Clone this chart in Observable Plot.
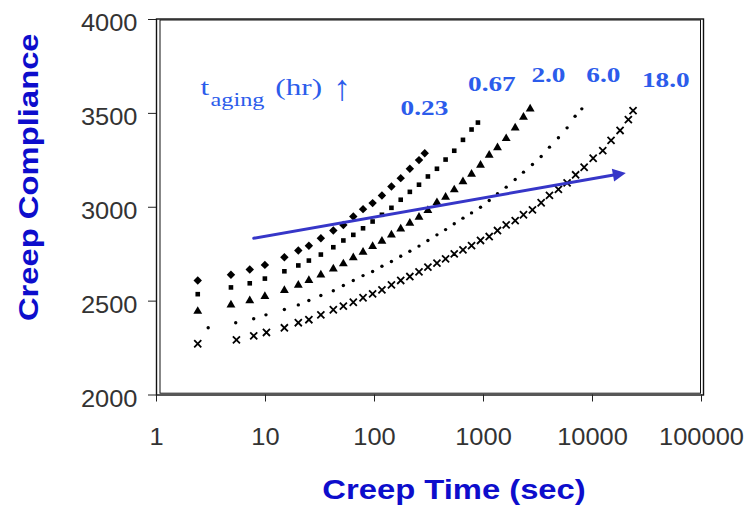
<!DOCTYPE html>
<html>
<head>
<meta charset="utf-8">
<script src="https://cdn.jsdelivr.net/npm/d3@7"></script>
<script src="https://cdn.jsdelivr.net/npm/@observablehq/plot@0.6"></script>
<style>
  body { margin: 0; background: #fff; }
</style>
</head>
<body>
<div id="chart"></div>
<script>
// ---- Data ----
const xTicks = [1, 10, 100, 1000, 10000, 100000];
const yTicks = [2000, 2500, 3000, 3500, 4000];

// t_aging = 0.23 hr (diamonds)
const tDiamond = [2.39, 4.82, 7.17, 9.87, 14.9, 20.0, 25.0, 32.2, 41.9, 51.8, 63.9, 78.5, 96.1, 117, 143, 174, 211, 256, 289];
const cDiamond = [2610, 2640, 2668, 2693, 2734, 2770, 2795, 2835, 2876, 2905, 2951, 2990, 3022, 3063, 3111, 3155, 3205, 3251, 3288];

// t_aging = 0.67 hr (squares)
const tSquare = [2.39, 4.82, 7.17, 9.87, 14.9, 20.0, 25.0, 32.2, 41.9, 51.8, 63.9, 78.5, 96.1, 117, 143, 174, 211, 256, 309, 374, 449, 539, 648, 777, 889];
const cSquare = [2537, 2573, 2595, 2620, 2659, 2690, 2716, 2748, 2787, 2823, 2853, 2888, 2924, 2960, 2997, 3040, 3082, 3120, 3164, 3205, 3254, 3301, 3359, 3414, 3451];

// t_aging = 2.0 hr (triangles)
const tTriangle = [2.39, 4.82, 7.17, 9.87, 14.9, 20.0, 25.0, 32.2, 41.9, 51.8, 63.9, 78.5, 96.1, 117, 143, 174, 211, 256, 309, 374, 449, 539, 648, 777, 939, 1128, 1344, 1615, 1953, 2327, 2680];
const cTriangle = [2446, 2480, 2503, 2525, 2557, 2585, 2610, 2640, 2672, 2699, 2731, 2761, 2791, 2819, 2853, 2885, 2915, 2947, 2983, 3025, 3054, 3093, 3136, 3176, 3224, 3277, 3317, 3366, 3423, 3480, 3524];

// t_aging = 6.0 hr (small dots)
const tDot = [2.98, 5.33, 7.79, 10.1, 14.9, 20.0, 25.0, 32.2, 41.9, 51.8, 63.9, 78.5, 96.1, 117, 143, 174, 211, 256, 309, 374, 449, 539, 648, 777, 939, 1128, 1344, 1615, 1953, 2327, 2812, 3380, 4029, 4867, 5848, 6920, 7980];
const cDot = [2358, 2385, 2406, 2427, 2455, 2480, 2503, 2530, 2555, 2583, 2610, 2636, 2658, 2686, 2711, 2739, 2766, 2793, 2823, 2853, 2881, 2912, 2942, 2970, 3000, 3036, 3072, 3107, 3148, 3187, 3228, 3270, 3320, 3370, 3423, 3485, 3524];

// t_aging = 18.0 hr (crosses)
const tCross = [2.39, 5.41, 7.8, 10.2, 14.9, 20.0, 25.0, 32.2, 41.9, 51.8, 63.9, 78.5, 96.1, 117, 143, 174, 211, 256, 309, 374, 449, 539, 648, 777, 939, 1128, 1344, 1615, 1953, 2327, 2812, 3380, 4029, 4867, 5848, 7000, 8380, 10140, 12420, 14800, 17910, 21330, 23560];
const cCross = [2273, 2294, 2315, 2333, 2358, 2385, 2401, 2427, 2454, 2473, 2494, 2518, 2539, 2560, 2587, 2610, 2631, 2656, 2681, 2702, 2725, 2752, 2773, 2796, 2823, 2844, 2876, 2906, 2929, 2960, 2986, 3024, 3063, 3095, 3130, 3173, 3213, 3261, 3302, 3356, 3409, 3467, 3515];

// Aging-time labels above the curves
const agingLabels = ["0.23", "0.67", "2.0", "6.0", "18.0"];
const agingLabelT = [287, 1194, 3944, 12560, 47080];
const agingLabelC = [3528, 3652, 3700, 3700, 3677];

// "t_aging (hr) ↑" annotation pieces
const titleParts = ["t", "(hr)"];
const titlePartT = [2.53, 12.3];
const titlePartC = [3638, 3638];
const subscriptText = ["aging"];
const subscriptT = [3.13];
const subscriptC = [3572];
const upArrowText = ["↑"];
const upArrowT = [50.7];
const upArrowC = [3630];

// Trend arrow (start/end in data units)
const trendT = [7.8, 20200];
const trendC = [2835, 3183];

const xTitle = "Creep Time (sec)";
const yTitle = "Creep Compliance";

// ---- Build tables ----
const rows = (ts, cs) => ts.map((t, i) => ({t, c: cs[i]}));
const labelRows = agingLabels.map((s, i) => ({s, t: agingLabelT[i], c: agingLabelC[i]}));
const partRows = titleParts.map((s, i) => ({s, t: titlePartT[i], c: titlePartC[i]}));
const subRows = subscriptText.map((s, i) => ({s, t: subscriptT[i], c: subscriptC[i]}));
const upRows = upArrowText.map((s, i) => ({s, t: upArrowT[i], c: upArrowC[i]}));
const trend = [{t1: trendT[0], c1: trendC[0], t2: trendT[1], c2: trendC[1]}];
const trendHead = [{t: trendT[1], c: trendC[1]}];

const sans = "Liberation Sans, Arial, sans-serif";
const serif = "Liberation Serif, Times New Roman, serif";
const titleBlue = "#0d0dcc";
const labelBlue = "#2c5ceb";
const arrowBlue = "#3636c8";

const chart = Plot.plot({
  width: 748,
  height: 516,
  marginLeft: 156,
  marginRight: 47,
  marginTop: 19,
  marginBottom: 121.5,
  style: {fontFamily: sans, background: "#fff", overflow: "visible"},
  x: {type: "log", domain: [1, 100000]},
  y: {domain: [2000, 4000]},
  marks: [
    // double frame
    Plot.frame({stroke: "#111", strokeWidth: 1.4, insetTop: -0.5, insetRight: -2}),
    Plot.frame({stroke: "#111", strokeWidth: 1, insetLeft: 3.5, insetTop: 0.5, insetRight: 1, insetBottom: 1.8}),
    // axes
    Plot.axisX(xTicks, {tickSize: 7, tickPadding: 26, fontSize: 24, tickFormat: d => String(d), label: null, color: "#333", stroke: "#222"}),
    Plot.axisY(yTicks, {tickSize: 8, tickFormat: () => "", label: null, stroke: "#222"}),
    Plot.axisY(yTicks, {tickSize: 0, tickPadding: 19, dy: 4, fontSize: 24, tickFormat: d => String(d), label: null, color: "#333"}),
    // series
    Plot.dot(rows(tDiamond, cDiamond), {x: "t", y: "c", symbol: "diamond2", r: 3.8, fill: "#000"}),
    Plot.dot(rows(tSquare, cSquare), {x: "t", y: "c", symbol: "square", r: 2.6, fill: "#000"}),
    Plot.dot(rows(tTriangle, cTriangle), {x: "t", y: "c", symbol: "triangle", r: 3.3, fill: "#000"}),
    Plot.dot(rows(tDot, cDot), {x: "t", y: "c", symbol: "circle", r: 1.7, fill: "#000"}),
    Plot.dot(rows(tCross, cCross), {x: "t", y: "c", symbol: "times", r: 3.3, stroke: "#000", strokeWidth: 1.8}),
    // trend arrow: shaft + filled head
    Plot.arrow(trend, {x1: "t1", y1: "c1", x2: "t2", y2: "c2", stroke: arrowBlue, strokeWidth: 3, headLength: 0, insetEnd: 8}),
    Plot.vector(trendHead, {x: "t", y: "c", length: 13, rotate: 80, anchor: "end", shape: "spike", r: 6.5, fill: arrowBlue, stroke: "none"}),
    // aging labels
    Plot.text(labelRows, {x: "t", y: "c", text: "s", fontFamily: serif, fontWeight: "bold", fontSize: 20.5, fill: labelBlue, ariaDescription: "stretch-serif"}),
    Plot.text(partRows, {x: "t", y: "c", text: "s", textAnchor: "start", fontFamily: serif, fontSize: 24, fill: labelBlue, ariaDescription: "stretch-title"}),
    Plot.text(subRows, {x: "t", y: "c", text: "s", textAnchor: "start", fontFamily: serif, fontSize: 18, fill: labelBlue, ariaDescription: "stretch-sub"}),
    Plot.text(upRows, {x: "t", y: "c", text: "s", fontFamily: serif, fontSize: 36, fill: labelBlue, ariaDescription: "stretch-arrow"}),
    // axis titles
    Plot.text([xTitle], {frameAnchor: "bottom", textAnchor: "middle", lineAnchor: "middle", dx: 25, dy: 94.5, fontFamily: sans, fontWeight: "bold", fontSize: 28.5, fill: titleBlue, ariaDescription: "stretch-sans"}),
    Plot.text([yTitle], {frameAnchor: "left", textAnchor: "middle", lineAnchor: "middle", dx: -128, dy: -30, rotate: -90, fontFamily: sans, fontWeight: "bold", fontSize: 28.5, fill: titleBlue, ariaDescription: "stretch-sans"})
  ]
});

// horizontal stretching of glyphs to match the reference's wide lettering
const svg = d3.select(chart);
function stretch(sel, k) {
  sel.each(function () {
    const t = this.getAttribute("transform") || "";
    this.setAttribute("transform", (t + ` scale(${k},1)`).trim());
  });
}
stretch(svg.selectAll('g[aria-description="stretch-serif"] text'), 1.33);
stretch(svg.selectAll('g[aria-description="stretch-title"] text'), 1.3);
stretch(svg.selectAll('g[aria-description="stretch-sub"] text'), 1.35);
stretch(svg.selectAll('g[aria-description="stretch-arrow"] text'), 1.0);
stretch(svg.selectAll('g[aria-description="stretch-sans"] text'), 1.15);
stretch(svg.selectAll('g[aria-label="x-axis tick label"] text'), 1.06);
stretch(svg.selectAll('g[aria-label="y-axis tick label"] text'), 1.06);

document.getElementById("chart").appendChild(chart);
</script>
</body>
</html>
